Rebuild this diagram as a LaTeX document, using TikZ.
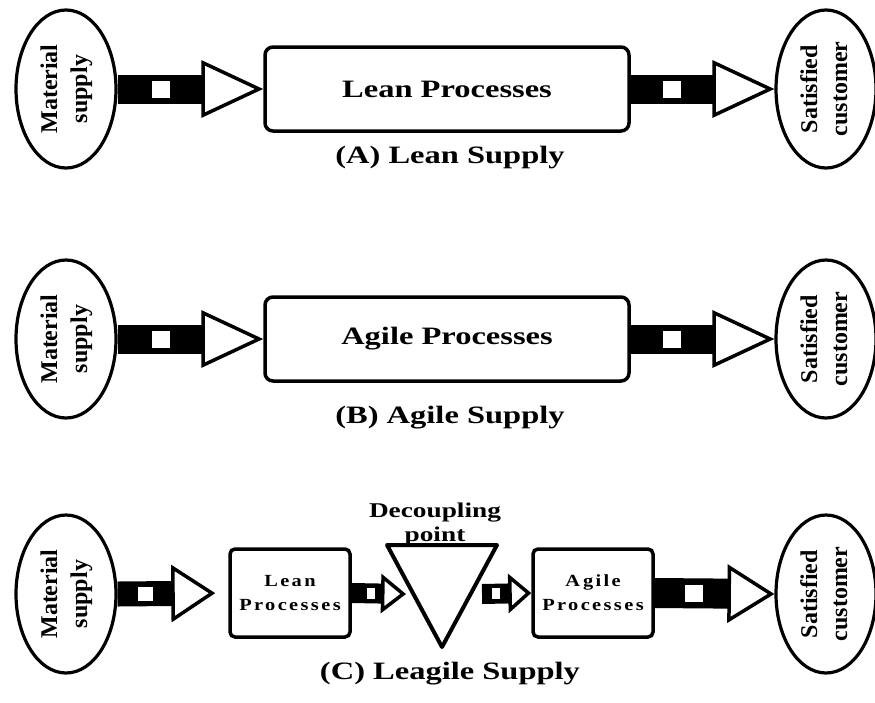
\documentclass[tikz,border=0pt]{standalone}
\usepackage{fontspec}
\setmainfont{Liberation Serif}
\newfontfamily\wide[FakeStretch=1.3]{Liberation Serif}
\newfontfamily\widesp[FakeStretch=1.2,LetterSpace=14]{Liberation Serif}
\usetikzlibrary{shapes.geometric,arrows.meta}
\newcommand{\vlabel}[2]{\rotatebox{90}{\begin{tabular}{@{}c@{}}#1\\#2\end{tabular}}}
\tikzset{
  src/.style={draw,ellipse,fill=white,line width=3.2pt,inner sep=0pt,minimum width=100pt,minimum height=158pt,font=\bfseries\fontsize{24}{30}\selectfont},
  proc/.style={draw,line width=3.5pt,rounded corners=8pt,minimum width=364pt,minimum height=84pt,font=\wide\bfseries\fontsize{25}{30}\selectfont},
  subproc/.style={draw,line width=3.5pt,rounded corners=5pt,minimum width=120pt,minimum height=88pt,align=center,font=\widesp\bfseries\fontsize{17}{24}\selectfont},
  lbl/.style={anchor=base,font=\wide\bfseries\fontsize{25}{30}\selectfont},
  feed/.style n args={3}{line width=#1,-{Triangle[length=#2,width=#3,fill=white,line width=3.5pt]}},
  hole/.style 2 args={fill=white,inner sep=0pt,minimum width=#1,minimum height=#2}
}
\begin{document}
\begin{tikzpicture}[x=1pt,y=-1pt]
\useasboundingbox (0,0) rectangle (875,702);
% (A)
\node[src] (msA) at (66,89) {\vlabel{Material}{supply}};
\node[proc] (leanA) at (447,89) {Lean Processes};
\node[src] (scA) at (826,89) {\vlabel{Satisfied}{customer}};
\draw[feed={29pt}{62pt}{57pt}] (msA.east) -- (leanA.west) node[hole={18pt}{17pt},pos=0.3] {};
\draw[feed={29pt}{62pt}{57pt}] (leanA.east) -- (scA.west) node[hole={18pt}{17pt},pos=0.29] {};
\node[lbl] (capA) at (450,163) {(A) Lean Supply};
% (B)
\node[src] (msB) at (66,339) {\vlabel{Material}{supply}};
\node[proc] (agileB) at (447,339) {Agile Processes};
\node[src] (scB) at (826,339) {\vlabel{Satisfied}{customer}};
\draw[feed={29pt}{62pt}{57pt}] (msB.east) -- (agileB.west) node[hole={18pt}{17pt},pos=0.3] {};
\draw[feed={29pt}{62pt}{57pt}] (agileB.east) -- (scB.west) node[hole={18pt}{17pt},pos=0.29] {};
\node[lbl] (capB) at (450,423) {(B) Agile Supply};
% (C)
\node[src] (msC) at (66,594) {\vlabel{Material}{supply}};
\node[subproc] (leanC) at (290,593) {Lean\\Processes};
\node[subproc] (agileC) at (593,593) {A\hspace{3pt}gile\\Processes};
\node[src] (scC) at (826,594) {\vlabel{Satisfied}{customer}};
\coordinate (dpL) at (406,594);
\coordinate (dpR) at (482,594);
\draw[line width=4pt,line join=round] (387,545) -- (497,545) -- (442,647) -- cycle;
\node[inner sep=0pt,align=center,font=\wide\bfseries\fontsize{21}{24}\selectfont] (dp) at (435,524) {Decoupling\\point};
\draw[feed={25pt}{44pt}{57pt},shorten >=13pt] (msC.east) -- (leanC.west) node[hole={15pt}{14pt},pos=0.25] {};
\draw[feed={20pt}{25pt}{39pt}] (leanC.east) -- (dpL) node[hole={8pt}{11pt},pos=0.35] {};
\draw[feed={20pt}{23pt}{39pt}] (dpR) -- (agileC.west) node[hole={8pt}{11pt},pos=0.28] {};
\draw[feed={30pt}{47pt}{58pt}] (agileC.east) -- (scC.west) node[hole={18pt}{17pt},pos=0.33] {};
\node[lbl] (capC) at (450,679) {(C) Leagile Supply};
\end{tikzpicture}
\end{document}
